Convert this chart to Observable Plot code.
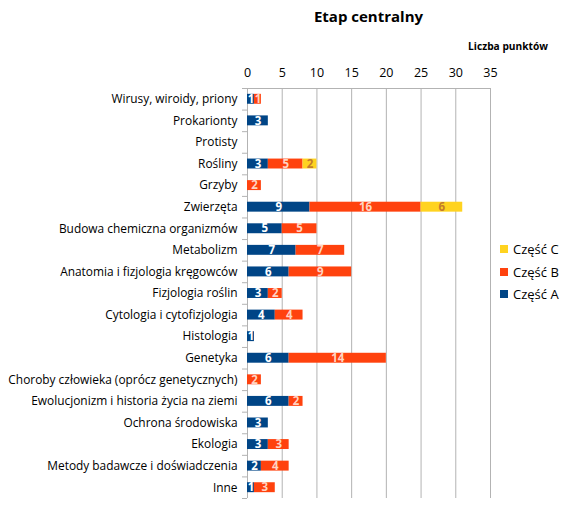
<!DOCTYPE html>
<html>
<head>
<meta charset="utf-8">
<script src="https://cdn.jsdelivr.net/npm/d3@7"></script>
<script src="https://cdn.jsdelivr.net/npm/@observablehq/plot@0.6"></script>
<style>
  body { margin: 0; background: #fff; font-family: "Open Sans", sans-serif; }
  #wrap { position: relative; width: 566px; height: 520px; }
  #head { position: relative; height: 58px; }
  #title { position: absolute; left: 247px; width: 243px; top: 6px; text-align: center; font-weight: bold; font-size: 15px; color: #000; }
  #xlabel { position: absolute; right: 18px; top: 39px; font-weight: bold; font-size: 10.2px; color: #000; }
  #legend { position: absolute; left: 500px; top: 238px; font-size: 13px; color: #000; }
  #legend div { display: flex; align-items: center; height: 22.5px; }
  #legend span.sw { display: inline-block; width: 8px; height: 8px; margin-right: 5px; }
  #chart svg { display: block; }
</style>
</head>
<body>
<div id="wrap">
  <div id="head"><div id="title">Etap centralny</div><div id="xlabel">Liczba punktów</div></div>
  <div id="chart"></div>
  <div id="legend"></div>
</div>
<script>
const categories = [
  "Wirusy, wiroidy, priony", "Prokarionty", "Protisty", "Rośliny", "Grzyby", "Zwierzęta",
  "Budowa chemiczna organizmów", "Metabolizm", "Anatomia i fizjologia kręgowców",
  "Fizjologia roślin", "Cytologia i cytofizjologia", "Histologia", "Genetyka",
  "Choroby człowieka (oprócz genetycznych)", "Ewolucjonizm i historia życia na ziemi",
  "Ochrona środowiska", "Ekologia", "Metody badawcze i doświadczenia", "Inne"
];
const parts = ["Część A", "Część B", "Część C"];
const partA = [1, 3, 0, 3, 0, 9, 5, 7, 6, 3, 4, 1, 6, 0, 6, 3, 3, 2, 1];
const partB = [1, 0, 0, 5, 2, 16, 5, 7, 9, 2, 4, 0, 14, 2, 2, 0, 3, 4, 3];
const partC = [0, 0, 0, 2, 0, 6, 0, 0, 0, 0, 0, 0, 0, 0, 0, 0, 0, 0, 0];
const xTicks = [0, 5, 10, 15, 20, 25, 30, 35];
const colors = ["#004586", "#ff420e", "#ffd320"];
const labelColors = ["#ffffff", "#ffd3c2", "#c47a2c"];

const series = [partA, partB, partC];
const data = [];
categories.forEach((c, i) => {
  parts.forEach((p, j) => {
    const v = series[j][i];
    if (v > 0) data.push({cat: c, part: p, value: v});
  });
});

const stackOpts = {x: "value", y: "cat", z: "part", order: parts};
const step = 410 / categories.length;

const chart = Plot.plot({
  width: 566,
  height: 462,
  marginTop: 30,
  marginBottom: 22,
  marginLeft: 247,
  marginRight: 76,
  style: {fontFamily: "Open Sans, sans-serif", fontSize: "11.9px", color: "#000", background: "#fff"},
  x: {domain: [0, 35], ticks: xTicks, axis: null},
  y: {domain: categories, paddingInner: 0.54, paddingOuter: 0.27, round: false, axis: null},
  color: {domain: parts, range: colors},
  marks: [
    Plot.gridX(xTicks, {stroke: "#b3b3b3", strokeOpacity: 1}),
    Plot.frame({anchor: "top", stroke: "#b3b3b3"}),
    Plot.axisX({anchor: "top", ticks: xTicks, tickSize: 0, tickPadding: 12, fontSize: 12.5, label: null}),
    Plot.axisY({tickSize: 0, tickPadding: 10, fontSize: 11.9, label: null}),
    Plot.axisY({tickSize: 5, tickFormat: () => "", dy: -step / 2, stroke: "#b3b3b3", strokeOpacity: 1, label: null}),
    Plot.axisY({ticks: [categories[categories.length - 1]], tickSize: 5, tickFormat: () => "", dy: step / 2, stroke: "#b3b3b3", strokeOpacity: 1, label: null}),
    Plot.barX(data, Plot.stackX({...stackOpts, fill: "part", inset: 0})),
    ...parts.map((p, j) => Plot.text(data, Plot.stackX({
      ...stackOpts,
      text: d => d.part === p ? String(d.value) : "",
      fill: labelColors[j],
      fontWeight: "bold",
      fontSize: 11.5
    })))
  ]
});
document.getElementById("chart").appendChild(chart);

const legend = document.getElementById("legend");
[2, 1, 0].forEach(j => {
  const row = document.createElement("div");
  row.innerHTML = `<span class="sw" style="background:${colors[j]}"></span>${parts[j]}`;
  legend.appendChild(row);
});
</script>
</body>
</html>
